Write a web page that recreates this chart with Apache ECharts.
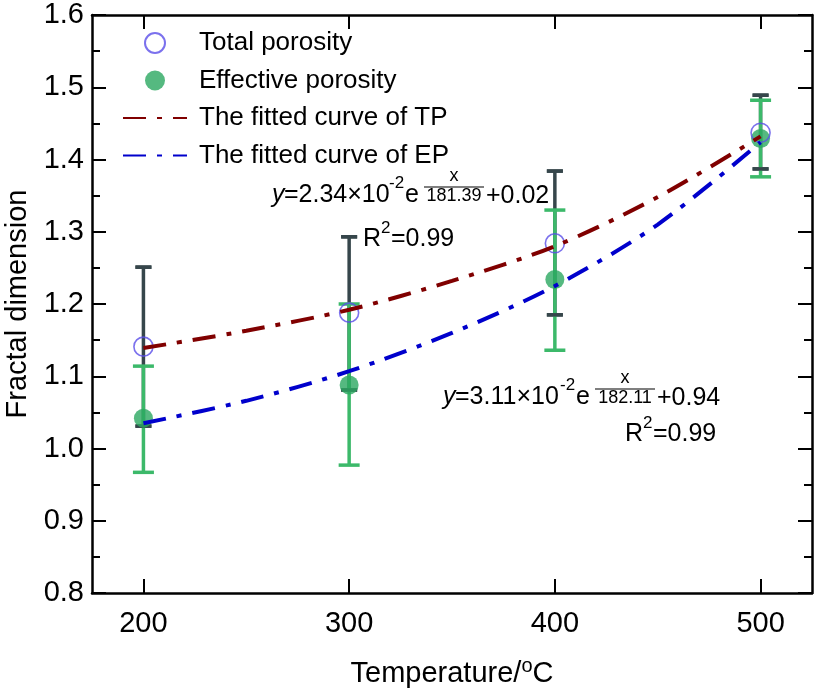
<!DOCTYPE html>
<html>
<head>
<meta charset="utf-8">
<script src="https://cdn.jsdelivr.net/npm/echarts@6/dist/echarts.min.js"></script>
<style>html,body{margin:0;padding:0;background:#fff}#c{width:816px;height:693px}</style>
</head>
<body>
<div id="c"></div>
<script>
// ---- data ----
const temps = [200, 300, 400, 500];
const xTickValues = [200, 300, 400, 500];
const tpValues = [1.141, 1.188, 1.284, 1.437];
const tpErrLow = [1.031, 1.081, 1.185, 1.387];
const tpErrHigh = [1.251, 1.293, 1.384, 1.489];
const epValues = [1.042, 1.088, 1.234, 1.429];
const epErrLow = [0.967, 0.977, 1.136, 1.376];
const epErrHigh = [1.114, 1.200, 1.330, 1.482];
const fitTemps = [200, 250, 300, 350, 400, 450, 500];
const tpFit = [1.139, 1.163, 1.192, 1.232, 1.280, 1.348, 1.432];
const epFit = [1.035, 1.066, 1.107, 1.160, 1.225, 1.310, 1.424];

const FONT = 'Liberation Sans, Arial, sans-serif';
const chart = echarts.init(document.getElementById('c'), null, {renderer: 'canvas'});

function errItem(color, capHalf, drawLine, drawCaps, lw) {
  return function (params, api) {
    const x = api.value(0), lo = api.value(1), hi = api.value(2);
    const pLo = api.coord([x, lo]), pHi = api.coord([x, hi]);
    const st = {stroke: color, lineWidth: lw};
    const ch = [];
    if (drawLine) ch.push({type: 'line', shape: {x1: pLo[0], y1: pLo[1], x2: pHi[0], y2: pHi[1]}, style: st});
    if (drawCaps) {
      ch.push({type: 'line', shape: {x1: pLo[0] - capHalf, y1: pLo[1], x2: pLo[0] + capHalf, y2: pLo[1]}, style: st});
      ch.push({type: 'line', shape: {x1: pHi[0] - capHalf, y1: pHi[1], x2: pHi[0] + capHalf, y2: pHi[1]}, style: st});
    }
    return {type: 'group', children: ch};
  };
}
const tpErrData = temps.map((t, i) => [t, tpErrLow[i], tpErrHigh[i]]);
const epErrData = temps.map((t, i) => [t, epErrLow[i], epErrHigh[i]]);
const DARK = '#36464b', GREEN = '#3cb96a';
const dash = [23, 11, 5, 11];

const axisLine = {show: true, lineStyle: {color: '#000', width: 2.5}};
const hideSym = {opacity: 0, color: 'rgba(0,0,0,0)', borderWidth: 0};
const option = {
  animation: false,
  backgroundColor: '#fff',
  grid: {left: 92, right: 4, top: 15, bottom: 100, containLabel: false, outerBoundsMode: 'none'},
  legend: {
    orient: 'vertical', left: 122, top: 30, padding: 0,
    itemWidth: 64, itemHeight: 20, itemGap: 11.5,
    textStyle: {fontSize: 26, fontFamily: FONT, color: '#000', lineHeight: 26, padding: [0, 0, 0, 7]},
    data: ['Total porosity', 'Effective porosity',
      {name: 'The fitted curve of TP', itemStyle: hideSym},
      {name: 'The fitted curve of EP', itemStyle: hideSym}]
  },
  xAxis: [{
    type: 'value', min: 175, max: 525, position: 'bottom',
    name: 'Temperature/{sup|o}C', nameLocation: 'middle', nameGap: 63,
    nameTextStyle: {fontSize: 29, fontFamily: FONT, color: '#000',
      rich: {sup: {fontSize: 20, fontFamily: FONT, color: '#000', verticalAlign: 'top', padding: [0, 0, 16, 0]}}},
    axisLine: axisLine,
    axisTick: {show: true, inside: true, length: 14, lineStyle: {color: '#000', width: 2}, customValues: xTickValues},
    axisLabel: {fontSize: 29, fontFamily: FONT, color: '#000', margin: 16, customValues: xTickValues},
    splitLine: {show: false}
  }, {
    type: 'value', min: 175, max: 525, position: 'top',
    axisLine: axisLine,
    axisTick: {show: true, inside: true, length: 14, lineStyle: {color: '#000', width: 2}, customValues: xTickValues},
    axisLabel: {show: false}, splitLine: {show: false}
  }],
  yAxis: [{
    type: 'value', min: 0.8, max: 1.6, interval: 0.1, position: 'left',
    name: 'Fractal dimension', nameLocation: 'middle', nameGap: 58,
    nameTextStyle: {fontSize: 29, fontFamily: FONT, color: '#000'},
    axisLine: axisLine,
    axisTick: {show: true, inside: true, length: 14, lineStyle: {color: '#000', width: 2}},
    minorTick: {show: true, splitNumber: 2, length: 8, lineStyle: {color: '#000', width: 2}},
    axisLabel: {fontSize: 29, fontFamily: FONT, color: '#000', margin: 8, formatter: v => v.toFixed(1)},
    splitLine: {show: false}
  }, {
    type: 'value', min: 0.8, max: 1.6, interval: 0.1, position: 'right',
    axisLine: axisLine,
    axisTick: {show: true, inside: true, length: 14, lineStyle: {color: '#000', width: 2}},
    minorTick: {show: true, splitNumber: 2, length: 8, lineStyle: {color: '#000', width: 2}},
    axisLabel: {show: false}, splitLine: {show: false}
  }],
  series: [
    {type: 'custom', name: 'tpErrLine', renderItem: errItem(DARK, 8, true, true, 3.5), data: tpErrData, encode: {x: 0, y: [1, 2]}, silent: true},
    {type: 'custom', name: 'epErr', renderItem: errItem(GREEN, 10.5, true, true, 3.5), data: epErrData, encode: {x: 0, y: [1, 2]}, silent: true},
    {type: 'scatter', name: 'Effective porosity', data: temps.map((t, i) => [t, epValues[i]]), symbol: 'circle', symbolSize: 19,
      itemStyle: {color: '#2aa860'}},
    {type: 'scatter', name: 'Total porosity', data: temps.map((t, i) => [t, tpValues[i]]), symbol: 'circle', symbolSize: 19,
      itemStyle: {color: 'rgba(255,255,255,0)', borderColor: '#5a4ee8', borderWidth: 1.6}},
    {type: 'custom', name: 'tpErrCaps', renderItem: errItem(DARK, 8, false, true, 3.5), data: tpErrData, encode: {x: 0, y: [1, 2]}, silent: true},
    {type: 'line', name: 'The fitted curve of TP', data: fitTemps.map((t, i) => [t, tpFit[i]]), smooth: 0.3, symbol: 'none',
      lineStyle: {color: '#800000', width: 4, type: dash}, itemStyle: {color: '#800000'}},
    {type: 'line', name: 'The fitted curve of EP', data: fitTemps.map((t, i) => [t, epFit[i]]), smooth: 0.3, symbol: 'none',
      lineStyle: {color: '#0000cc', width: 4, type: dash}, itemStyle: {color: '#0000cc'}}
  ],
  graphic: [
    // equation 1
    {type: 'text', x: 272, y: 195, style: {text: 'y', font: 'italic 25px ' + FONT, fill: '#000', verticalAlign: 'middle'}},
    {type: 'text', x: 284, y: 195, style: {text: '=2.34×10', font: '25px ' + FONT, fill: '#000', verticalAlign: 'middle'}},
    {type: 'text', x: 389, y: 183, style: {text: '-2', font: '17px ' + FONT, fill: '#000', verticalAlign: 'middle'}},
    {type: 'text', x: 405, y: 195, style: {text: 'e', font: '25px ' + FONT, fill: '#000', verticalAlign: 'middle'}},
    {type: 'text', x: 454, y: 176, style: {text: 'x', font: '18px ' + FONT, fill: '#000', align: 'center', verticalAlign: 'middle'}},
    {type: 'line', shape: {x1: 424, y1: 187, x2: 484, y2: 187}, style: {stroke: '#000', lineWidth: 1.2}},
    {type: 'text', x: 454, y: 196, style: {text: '181.39', font: '18px ' + FONT, fill: '#000', align: 'center', verticalAlign: 'middle'}},
    {type: 'text', x: 486, y: 196, style: {text: '+0.02', font: '25px ' + FONT, fill: '#000', verticalAlign: 'middle'}},
    {type: 'text', x: 363, y: 239, style: {text: 'R', font: '25px ' + FONT, fill: '#000', verticalAlign: 'middle'}},
    {type: 'text', x: 381, y: 228, style: {text: '2', font: '17px ' + FONT, fill: '#000', verticalAlign: 'middle'}},
    {type: 'text', x: 391, y: 239, style: {text: '=0.99', font: '25px ' + FONT, fill: '#000', verticalAlign: 'middle'}},
    // equation 2
    {type: 'text', x: 443, y: 397, style: {text: 'y', font: 'italic 25px ' + FONT, fill: '#000', verticalAlign: 'middle'}},
    {type: 'text', x: 455, y: 397, style: {text: '=3.11×10', font: '25px ' + FONT, fill: '#000', verticalAlign: 'middle'}},
    {type: 'text', x: 560, y: 385, style: {text: '-2', font: '17px ' + FONT, fill: '#000', verticalAlign: 'middle'}},
    {type: 'text', x: 576, y: 397, style: {text: 'e', font: '25px ' + FONT, fill: '#000', verticalAlign: 'middle'}},
    {type: 'text', x: 625, y: 378, style: {text: 'x', font: '18px ' + FONT, fill: '#000', align: 'center', verticalAlign: 'middle'}},
    {type: 'line', shape: {x1: 595, y1: 389, x2: 655, y2: 389}, style: {stroke: '#000', lineWidth: 1.2}},
    {type: 'text', x: 625, y: 398, style: {text: '182.11', font: '18px ' + FONT, fill: '#000', align: 'center', verticalAlign: 'middle'}},
    {type: 'text', x: 657, y: 398, style: {text: '+0.94', font: '25px ' + FONT, fill: '#000', verticalAlign: 'middle'}},
    {type: 'text', x: 625, y: 434, style: {text: 'R', font: '25px ' + FONT, fill: '#000', verticalAlign: 'middle'}},
    {type: 'text', x: 643, y: 423, style: {text: '2', font: '17px ' + FONT, fill: '#000', verticalAlign: 'middle'}},
    {type: 'text', x: 653, y: 434, style: {text: '=0.99', font: '25px ' + FONT, fill: '#000', verticalAlign: 'middle'}}
  ]
};
chart.setOption(option);
</script>
</body>
</html>
